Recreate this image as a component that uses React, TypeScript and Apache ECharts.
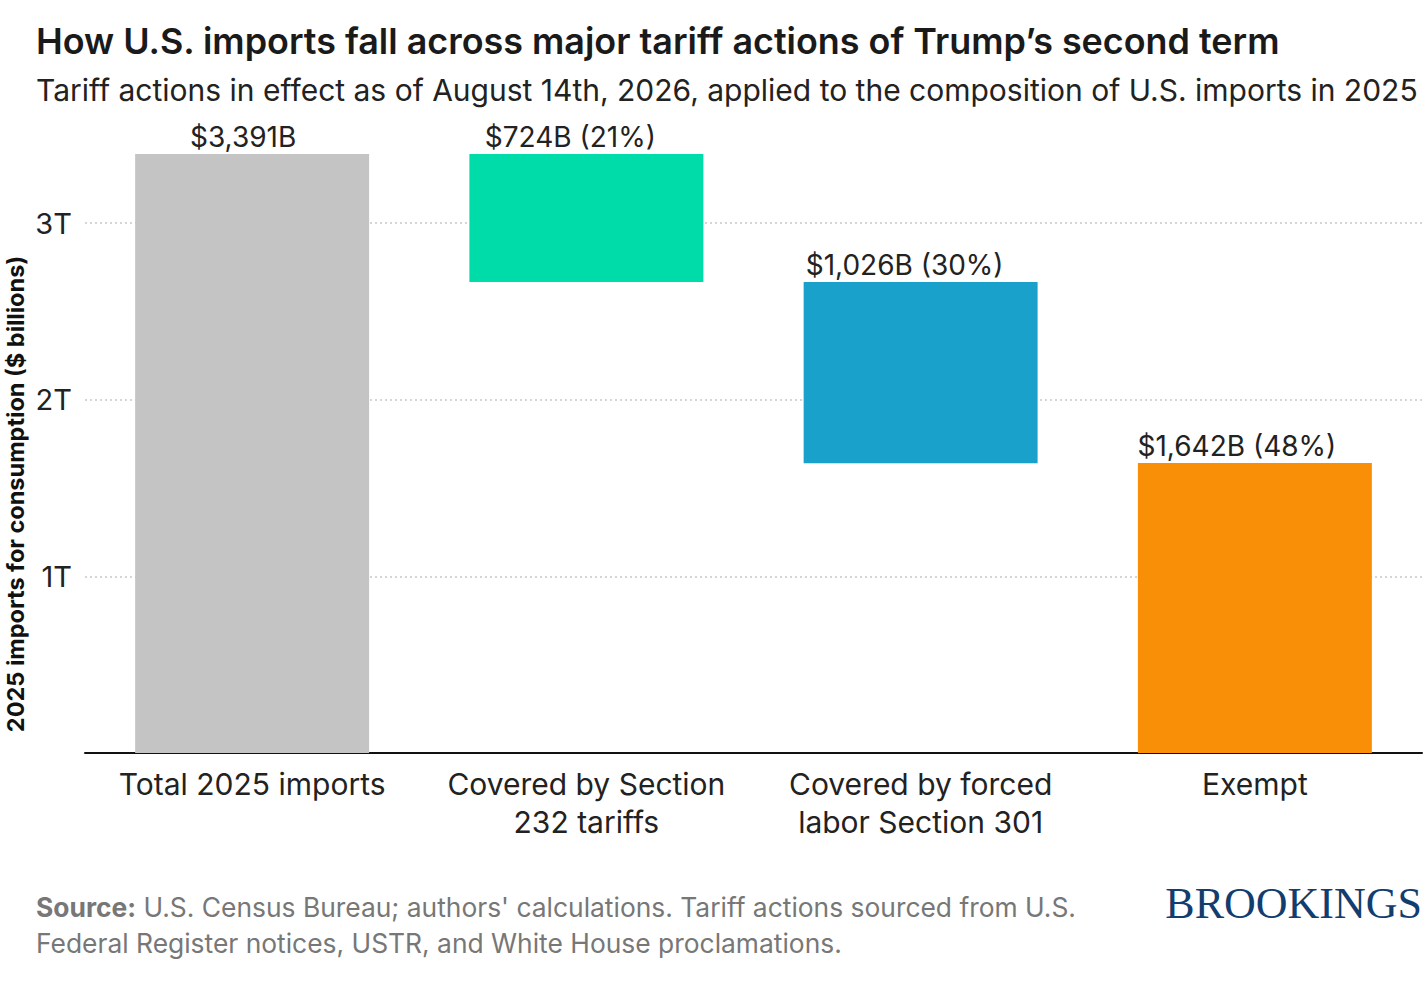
import { useEffect, useRef } from 'react'
import * as echarts from 'echarts'

const categories = ['Total 2025 imports', 'Covered by Section\n232 tariffs', 'Covered by forced\nlabor Section 301', 'Exempt']
const values = [3391, 724, 1026, 1642]
const colors = ['#c4c4c4', '#00dca9', '#19a1cb', '#f98e07']
const yTicks = [1000, 2000, 3000]
// labels sit a little left of the bar centre in the original
const labelShift = [-9, -16, -16, -18]

const total = values[0]
// floating bars start where the previous step ended
const bases = values.map((v, i) => {
  if (i === 0 || i === values.length - 1) return 0
  let left = total
  for (let k = 1; k <= i; k++) left -= values[k]
  return left
})

const FONT = 'Inter, "Noto Sans", sans-serif'

const App = () => {
  const chartRef = useRef<HTMLDivElement>(null)

  useEffect(() => {
    if (!chartRef.current) return
    const chart = echarts.init(chartRef.current, undefined, { renderer: 'svg' })

    chart.setOption({
      animation: false,
      backgroundColor: '#fff',
      textStyle: { fontFamily: FONT },
      grid: { left: 85, right: 6, top: 154, bottom: 229 },
      xAxis: {
        type: 'category',
        data: categories,
        axisLine: { lineStyle: { color: '#111', width: 2 } },
        axisTick: { show: false },
        axisLabel: {
          color: '#222',
          fontSize: 30,
          lineHeight: 38,
          margin: 12,
          fontFamily: FONT,
          interval: 0,
        },
      },
      yAxis: {
        type: 'value',
        min: 0,
        max: total,
        interval: 1000,
        axisLine: { show: false },
        axisTick: { show: false },
        splitLine: {
          showMinLine: false,
          showMaxLine: false,
          lineStyle: { color: '#c8c8c8', type: [2, 3], width: 1.5 },
        },
        axisLabel: {
          color: '#222',
          fontSize: 29,
          margin: 13,
          fontFamily: FONT,
          showMinLabel: false,
          showMaxLabel: false,
          formatter: (v: number) => (yTicks.includes(v) ? v / 1000 + 'T' : ''),
        },
      },
      series: [
        {
          type: 'bar',
          stack: 'w',
          barWidth: '70%',
          itemStyle: { color: 'transparent' },
          silent: true,
          data: bases,
        },
        {
          type: 'bar',
          stack: 'w',
          barWidth: '70%',
          data: values.map((v, i) => ({
            value: v,
            itemStyle: { color: colors[i] },
            label: { offset: [labelShift[i], 0] },
          })),
          label: {
            show: true,
            position: 'top',
            distance: 3,
            color: '#222',
            fontSize: 28,
            fontFamily: FONT,
            formatter: (p: any) => {
              const v = p.value as number
              const s = '$' + v.toLocaleString('en-US') + 'B'
              return p.dataIndex === 0 ? s : s + ' (' + Math.round((v / total) * 100) + '%)'
            },
          },
        },
      ],
      graphic: [
        {
          type: 'text',
          left: 36,
          top: 23,
          style: {
            text: 'How U.S. imports fall across major tariff actions of Trump’s second term',
            fontSize: 35.9,
            fontWeight: 600,
            fontFamily: FONT,
            fill: '#1a1a1a',
          },
        },
        {
          type: 'text',
          left: 36,
          top: 75,
          style: {
            text: 'Tariff actions in effect as of August 14th, 2026, applied to the composition of U.S. imports in 2025',
            fontSize: 30,
            fontFamily: FONT,
            fill: '#222',
          },
        },
        {
          type: 'text',
          x: 15,
          y: 494,
          rotation: Math.PI / 2,
          style: {
            text: '2025 imports for consumption ($ billions)',
            fontSize: 23.5,
            fontWeight: 700,
            fontFamily: FONT,
            fill: '#111',
            align: 'center',
            verticalAlign: 'middle',
          },
        },
        {
          type: 'text',
          left: 36,
          top: 889,
          style: {
            text: '{b|Source:} U.S. Census Bureau; authors\' calculations. Tariff actions sourced from U.S.\nFederal Register notices, USTR, and White House proclamations.',
            fontSize: 26.4,
            lineHeight: 36,
            fontFamily: FONT,
            fill: '#777',
            rich: {
              b: { fontSize: 26.4, fontWeight: 700, fontFamily: FONT, fill: '#777', lineHeight: 36 },
            },
          },
        },
        {
          type: 'text',
          right: 6,
          top: 881,
          style: {
            text: 'BROOKINGS',
            fontSize: 44,
            fontFamily: '"Liberation Serif", "DejaVu Serif", serif',
            fill: '#123d6e',
          },
        },
      ],
    })

    return () => {
      chart.dispose()
    }
  }, [])

  return (
    <div
      ref={chartRef}
      style={{ position: 'absolute', left: 0, top: 0, width: 1428, height: 982, background: '#fff' }}
    />
  )
}

export default App
